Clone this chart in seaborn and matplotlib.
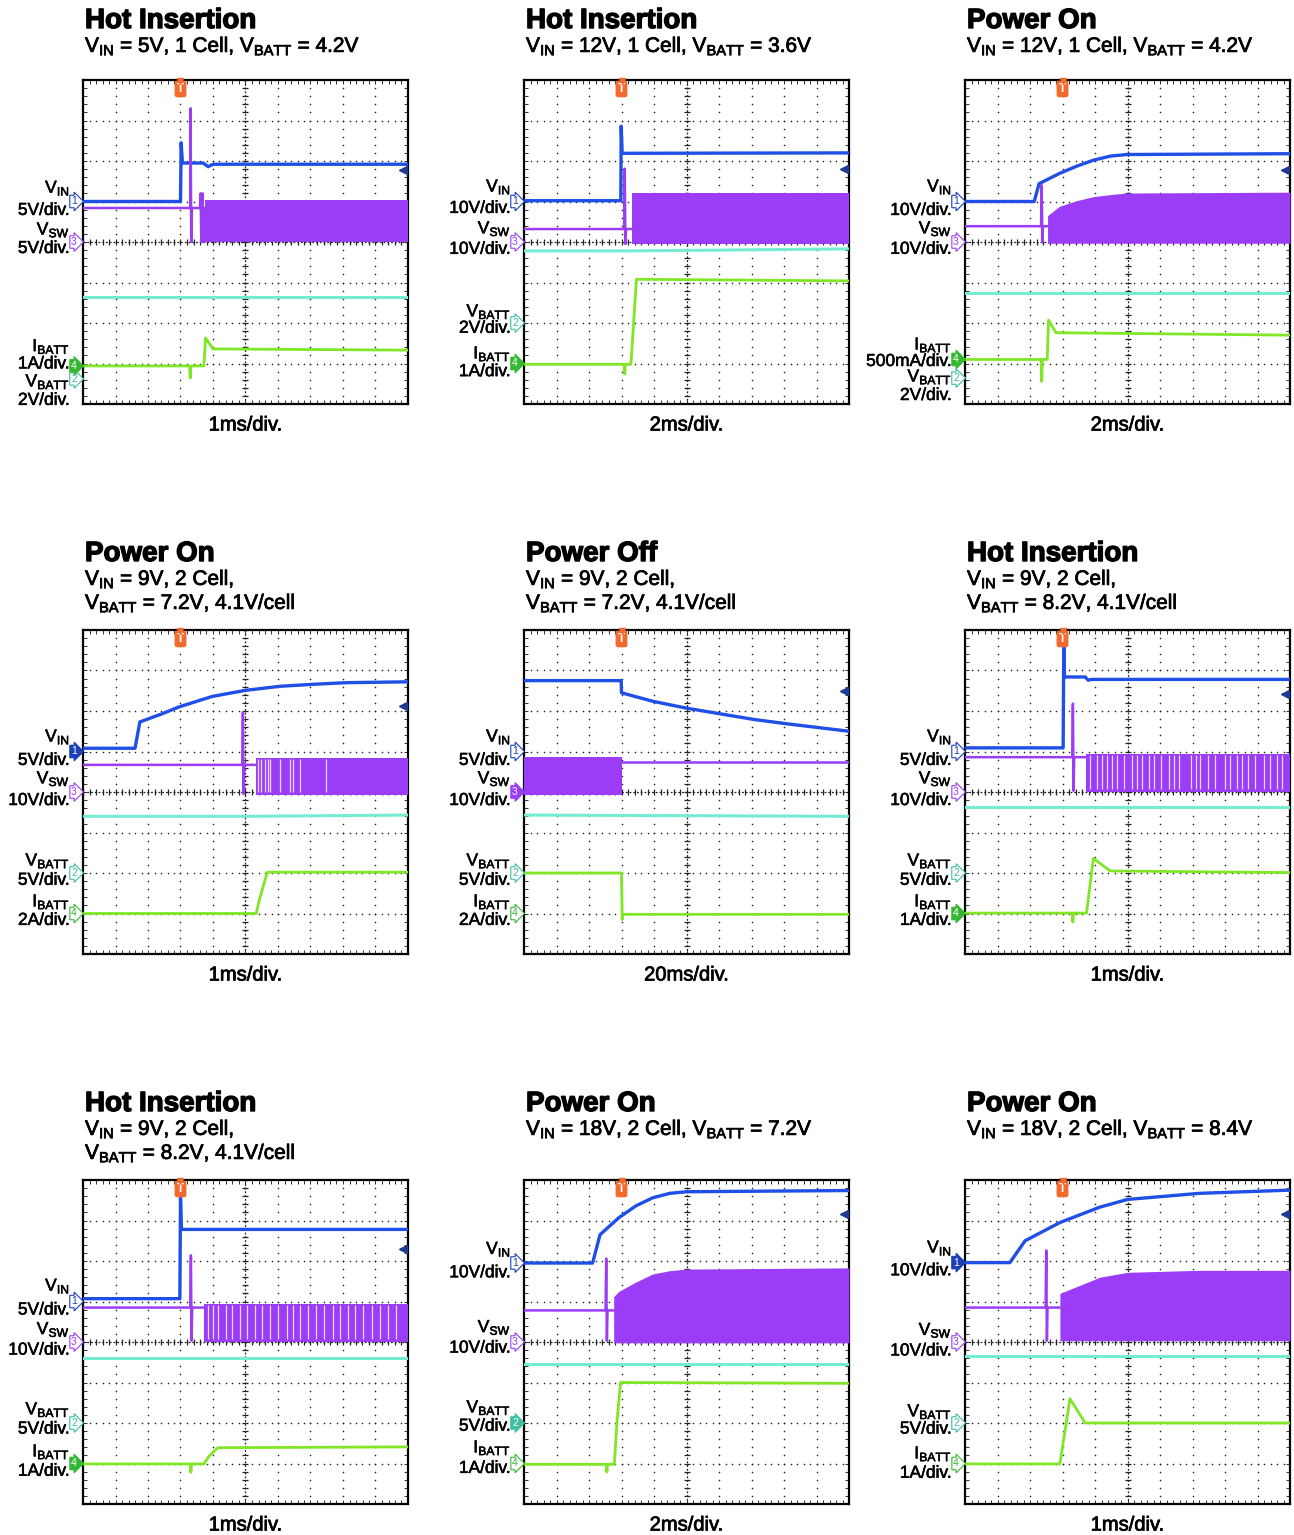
import numpy as np
import seaborn as sns
import matplotlib.pyplot as plt
import matplotlib.patheffects as pe
from matplotlib.ticker import MultipleLocator
from matplotlib.transforms import offset_copy

W, H = 1294, 1535

# scope traces, in screen divisions (x 0..10, y 0..8 from bottom)
# ---- panel A : Hot Insertion, VIN 5V, 1 cell
A_VIN = [(0, 5.0), (3.0, 5.0), (3.02, 6.45), (3.06, 5.95), (3.7, 5.95), (3.85, 5.86), (4.0, 5.92), (10, 5.92)]
A_VSW = [(0, 4.84), (3.3, 4.84), (3.31, 7.3), (3.33, 4.0), (3.35, 4.84), (3.6, 4.84), (3.62, 5.2), (3.64, 4.0),
         (3.66, 4.84), (3.68, 5.2), (3.7, 4.0), (3.75, 4.84)]
A_BAND_X = [3.75, 10]
A_BAND_TOP = [5.04, 5.04]
A_BAND_BOT = 4.0
A_GAPS = []
A_VBATT = [(0, 2.64), (10, 2.64)]
A_IBATT = [(0, 0.94), (3.28, 0.94), (3.3, 0.64), (3.32, 0.94), (3.72, 0.94), (3.77, 1.63), (4.0, 1.36), (10, 1.33)]
A_MARK = [5.0, 4.0, 0.62, 0.94]
A_TRIG = 5.78

# ---- panel B : Hot Insertion, VIN 12V, 1 cell
B_VIN = [(0, 5.02), (2.98, 5.02), (2.99, 6.86), (3.02, 6.19), (10, 6.2)]
B_VSW = [(0, 4.32), (3.08, 4.32), (3.1, 5.81), (3.12, 3.95), (3.14, 4.32), (3.31, 4.32)]
B_BAND_X = [3.31, 10]
B_BAND_TOP = [5.21, 5.21]
B_BAND_BOT = 3.95
B_GAPS = []
B_VBATT = [(0, 3.78), (3.3, 3.78), (10, 3.83)]
B_IBATT = [(0, 0.98), (3.08, 0.98), (3.1, 0.74), (3.12, 0.98), (3.29, 0.98), (3.46, 3.08), (10, 3.04)]
B_MARK = [5.0, 4.0, 2.0, 1.0]
B_TRIG = 5.8

# ---- panel C : Power On, VIN 12V, 1 cell
C_VIN = [(0, 5.0), (2.13, 5.0), (2.28, 5.44), (2.9, 5.69), (3.43, 5.87), (3.95, 6.02), (4.47, 6.12),
         (4.98, 6.16), (10, 6.18)]
C_VSW = [(0, 4.39), (2.34, 4.39), (2.36, 5.4), (2.38, 3.99), (2.4, 4.39), (2.54, 4.39)]
C_BAND_X = [2.54, 2.9, 3.43, 3.95, 4.47, 4.98, 10]
C_BAND_TOP = [4.65, 4.88, 5.02, 5.12, 5.17, 5.21, 5.23]
C_BAND_BOT = 3.97
C_GAPS = []
C_VBATT = [(0, 2.73), (10, 2.73)]
C_IBATT = [(0, 1.1), (2.34, 1.1), (2.36, 0.56), (2.38, 1.1), (2.53, 1.1), (2.57, 2.07), (2.8, 1.76), (10, 1.7)]
C_MARK = [5.0, 4.0, 0.64, 1.1]
C_TRIG = 5.79

# ---- panel D : Power On, VIN 9V, 2 cell
D_VIN = [(0, 5.08), (1.6, 5.08), (1.75, 5.73), (2.43, 5.93), (2.95, 6.1), (3.98, 6.36), (5.0, 6.51),
         (6.06, 6.61), (7.1, 6.66), (8.13, 6.7), (10, 6.72)]
D_VSW = [(0, 4.67), (4.9, 4.67), (4.92, 5.96), (4.94, 3.95), (4.96, 4.67), (5.31, 4.67)]
D_BAND_X = [5.31, 10]
D_BAND_TOP = [4.84, 4.84]
D_BAND_BOT = 3.92
D_GAPS = [5.38, 5.49, 5.59, 5.69, 5.75, 6.06, 6.37, 6.47, 6.68, 7.49]
D_VBATT = [(0, 3.4), (5.0, 3.4), (10, 3.43)]
D_IBATT = [(0, 1.0), (5.33, 1.0), (5.43, 1.35), (5.67, 2.02), (10, 2.02)]
D_MARK = [5.0, 4.0, 2.0, 1.0]
D_TRIG = 6.12

# ---- panel E : Power Off, VIN 9V, 2 cell
E_VIN = [(0, 6.75), (2.99, 6.75), (3.0, 6.45), (3.96, 6.24), (5.0, 6.07), (6.04, 5.93), (7.08, 5.79),
         (8.13, 5.68), (9.17, 5.58), (10, 5.5)]
E_VSW = [(3.0, 4.73), (10, 4.73)]
E_BAND_X = [0, 3.0]
E_BAND_TOP = [4.86, 4.86]
E_BAND_BOT = 3.93
E_GAPS = []
E_VBATT = [(0, 3.43), (10, 3.4)]
E_IBATT = [(0, 2.0), (3.0, 2.0), (3.02, 0.85), (3.04, 0.98), (10, 0.98)]
E_MARK = [5.0, 4.0, 2.0, 1.0]
E_TRIG = 6.5

# ---- panel F : Hot Insertion, VIN 9V, 2 cell
F_VIN = [(0, 5.09), (3.02, 5.09), (3.04, 7.75), (3.06, 6.84), (3.7, 6.84), (3.79, 6.76), (3.9, 6.78), (10, 6.78)]
F_VSW = [(0, 4.86), (3.3, 4.86), (3.32, 6.18), (3.34, 4.03), (3.36, 4.86), (3.71, 4.86)]
F_BAND_X = [3.71, 10]
F_BAND_TOP = [4.94, 4.94]
F_BAND_BOT = 3.99
F_GAPS = [3.84, 4.05, 4.21, 4.36, 4.52, 4.67, 4.88, 5.14, 5.3, 5.45, 5.66, 5.82, 6.02, 6.28, 6.44, 6.59,
          6.96, 7.11, 7.22, 7.48, 7.68, 7.99, 8.15, 8.36, 8.52, 8.72, 8.93, 9.19, 9.39, 9.6, 9.76]
F_VBATT = [(0, 3.64), (10, 3.64)]
F_IBATT = [(0, 1.01), (3.3, 1.01), (3.32, 0.79), (3.34, 1.01), (3.74, 1.01), (3.95, 2.36), (4.47, 2.05), (10, 2.01)]
F_MARK = [5.0, 4.0, 2.0, 1.0]
F_TRIG = 6.43

# ---- panel G : Hot Insertion, VIN 9V, 2 cell
G_VIN = [(0, 5.07), (2.98, 5.07), (3.0, 7.57), (3.03, 6.78), (10, 6.78)]
G_VSW = [(0, 4.85), (3.3, 4.85), (3.32, 6.14), (3.34, 4.03), (3.36, 4.85), (3.72, 4.85)]
G_BAND_X = [3.72, 10]
G_BAND_TOP = [4.93, 4.93]
G_BAND_BOT = 4.0
G_GAPS = [3.85, 4.0, 4.15, 4.4, 4.58, 4.83, 5.05, 5.29, 5.51, 5.75, 6.0, 6.28, 6.46, 6.68, 6.92, 7.17,
          7.42, 7.69, 7.91, 8.15, 8.37, 8.62, 8.89, 9.14, 9.38, 9.63]
G_VBATT = [(0, 3.61), (10, 3.61)]
G_IBATT = [(0, 0.99), (3.3, 0.99), (3.32, 0.78), (3.34, 0.99), (3.72, 0.99), (3.9, 1.2), (4.15, 1.39), (10, 1.41)]
G_MARK = [5.0, 4.0, 2.0, 1.0]
G_TRIG = 6.3

# ---- panel H : Power On, VIN 18V, 2 cell, 7.2V
H_VIN = [(0, 5.95), (2.11, 5.95), (2.34, 6.65), (2.92, 7.07), (3.44, 7.36), (3.96, 7.56), (4.48, 7.67),
         (5.0, 7.71), (10, 7.74)]
H_VSW = [(0, 4.78), (2.51, 4.78), (2.53, 6.06), (2.55, 4.03), (2.57, 4.78), (2.76, 4.78)]
H_BAND_X = [2.76, 2.92, 3.44, 3.96, 4.48, 5.0, 10]
H_BAND_TOP = [5.12, 5.25, 5.48, 5.68, 5.76, 5.8, 5.83]
H_BAND_BOT = 3.98
H_GAPS = []
H_VBATT = [(0, 3.45), (10, 3.45)]
H_IBATT = [(0, 0.98), (2.53, 0.98), (2.55, 0.79), (2.57, 0.98), (2.78, 0.98), (2.86, 2.02), (2.97, 3.0), (10, 2.98)]
H_MARK = [5.95, 4.0, 2.0, 1.0]
H_TRIG = 7.17

# ---- panel I : Power On, VIN 18V, 2 cell, 8.4V
I_VIN = [(0, 5.96), (1.38, 5.96), (1.85, 6.5), (2.92, 6.95), (4.15, 7.33), (5.0, 7.52), (7.2, 7.67), (10, 7.75)]
I_VSW = [(0, 4.85), (2.48, 4.85), (2.5, 6.26), (2.52, 4.03), (2.54, 4.85), (2.92, 4.85)]
I_BAND_X = [2.92, 4.15, 5.0, 7.2, 10]
I_BAND_TOP = [5.2, 5.6, 5.72, 5.77, 5.77]
I_BAND_BOT = 4.03
I_GAPS = []
I_VBATT = [(0, 3.66), (10, 3.66)]
I_IBATT = [(0, 0.99), (2.92, 0.99), (3.23, 2.6), (3.7, 2.0), (10, 2.0)]
I_MARK = [5.96, 4.0, 2.0, 1.0]
I_TRIG = 7.15

# text per panel
TITLES = ['Hot Insertion', 'Hot Insertion', 'Power On',
          'Power On', 'Power Off', 'Hot Insertion',
          'Hot Insertion', 'Power On', 'Power On']
SUBTITLES = [
    ['$V_{IN}$ = 5V, 1 Cell, $V_{BATT}$ = 4.2V'],
    ['$V_{IN}$ = 12V, 1 Cell, $V_{BATT}$ = 3.6V'],
    ['$V_{IN}$ = 12V, 1 Cell, $V_{BATT}$ = 4.2V'],
    ['$V_{IN}$ = 9V, 2 Cell,', '$V_{BATT}$ = 7.2V, 4.1V/cell'],
    ['$V_{IN}$ = 9V, 2 Cell,', '$V_{BATT}$ = 7.2V, 4.1V/cell'],
    ['$V_{IN}$ = 9V, 2 Cell,', '$V_{BATT}$ = 8.2V, 4.1V/cell'],
    ['$V_{IN}$ = 9V, 2 Cell,', '$V_{BATT}$ = 8.2V, 4.1V/cell'],
    ['$V_{IN}$ = 18V, 2 Cell, $V_{BATT}$ = 7.2V'],
    ['$V_{IN}$ = 18V, 2 Cell, $V_{BATT}$ = 8.4V'],
]
TIMEBASE = ['1ms/div.', '2ms/div.', '2ms/div.', '1ms/div.', '20ms/div.', '1ms/div.',
            '1ms/div.', '2ms/div.', '1ms/div.']
# volts/amps per division, order: vin, vsw, vbatt, ibatt
SCALES = [
    ['5V/div.', '5V/div.', '2V/div.', '1A/div.'],
    ['10V/div.', '10V/div.', '2V/div.', '1A/div.'],
    ['10V/div.', '10V/div.', '2V/div.', '500mA/div.'],
    ['5V/div.', '10V/div.', '5V/div.', '2A/div.'],
    ['5V/div.', '10V/div.', '5V/div.', '2A/div.'],
    ['5V/div.', '10V/div.', '5V/div.', '1A/div.'],
    ['5V/div.', '10V/div.', '5V/div.', '1A/div.'],
    ['10V/div.', '10V/div.', '5V/div.', '1A/div.'],
    ['10V/div.', '10V/div.', '5V/div.', '1A/div.'],
]
SELECTED = ['ibatt', 'ibatt', 'ibatt', 'vin', 'vsw', 'ibatt', 'ibatt', 'vbatt', 'vin']

# layout: where the channel name / scale text sits (divisions)
LABEL_Y = [
    [(5.33, 4.78), (4.3, 3.84), (0.55, 0.09), (1.42, 0.99)],
    [(5.36, 4.83), (4.33, 3.82), (2.28, 1.87), (1.24, 0.8)],
    [(5.36, 4.78), (4.33, 3.82), (0.67, 0.21), (1.46, 1.05)],
    [(5.36, 4.78), (4.33, 3.79), (2.3, 1.82), (1.29, 0.83)],
    [(5.36, 4.78), (4.33, 3.79), (2.3, 1.82), (1.29, 0.83)],
    [(5.36, 4.78), (4.33, 3.79), (2.3, 1.82), (1.29, 0.83)],
    [(5.38, 4.79), (4.31, 3.8), (2.33, 1.85), (1.29, 0.81)],
    [(6.29, 5.71), (4.36, 3.85), (2.38, 1.92), (1.39, 0.88)],
    [(6.32, 5.76), (4.29, 3.78), (2.28, 1.85), (1.24, 0.76)],
]

COL_LEFT = [83, 524, 965]
ROW_TOP = [80, 630, 1180]
PW, PH = 325, 324
TITLE_OFF = [52, 69, 69]

CHANNELS = ['vin', 'vsw', 'vbatt', 'ibatt']
CH_NAME = {'vin': '$V_{IN}$', 'vsw': '$V_{SW}$', 'vbatt': '$V_{BATT}$', 'ibatt': '$I_{BATT}$'}
CH_NUM = {'vin': '1', 'vbatt': '2', 'vsw': '3', 'ibatt': '4'}
TRACE_C = {'vin': '#1f4fe6', 'vsw': '#9b3cf6', 'vbatt': '#74ecd4', 'ibatt': '#80e626'}
TRACE_W = {'vin': 2.4, 'vsw': 1.8, 'vbatt': 2.2, 'ibatt': 2.0}
MARK_C = {'vin': '#1a3fb8', 'vsw': '#9b3cf6', 'vbatt': '#3dbf9f', 'ibatt': '#34b834'}

PANELS = []
for key in 'ABCDEFGHI':
    g = globals()
    PANELS.append(dict(vin=g[key + '_VIN'], vsw=g[key + '_VSW'], vbatt=g[key + '_VBATT'], ibatt=g[key + '_IBATT'],
                       band_x=g[key + '_BAND_X'], band_top=g[key + '_BAND_TOP'], band_bot=g[key + '_BAND_BOT'],
                       gaps=g[key + '_GAPS'], mark=g[key + '_MARK'], trig=g[key + '_TRIG']))


sns.set_style('white')
plt.rcParams['font.family'] = ['Liberation Sans', 'DejaVu Sans']
plt.rcParams['text.color'] = 'black'
plt.rcParams['mathtext.fontset'] = 'custom'
plt.rcParams['mathtext.rm'] = 'Liberation Sans'
plt.rcParams['mathtext.it'] = 'Liberation Sans:italic'
plt.rcParams['mathtext.bf'] = 'Liberation Sans:bold'
plt.rcParams['mathtext.default'] = 'rm'

LIGHT = [pe.withStroke(linewidth=0.4, foreground='black')]
HEAVY = [pe.withStroke(linewidth=0.55, foreground='black')]
HEAVIER = [pe.withStroke(linewidth=1.0, foreground='black')]


def draw_grid(ax):
    # dotted graticule, one dot every 0.2 div
    fine_x = np.arange(0, 10.01, 0.2)
    fine_y = np.arange(0, 8.01, 0.2)
    for gy in range(1, 8):
        if gy != 4:
            ax.scatter(fine_x, np.full_like(fine_x, gy), s=1.3, color='#222222', lw=0, zorder=1)
    for gx in range(1, 10):
        if gx != 5:
            ax.scatter(np.full_like(fine_y, gx), fine_y, s=1.3, color='#222222', lw=0, zorder=1)
    # centre cross with small ticks
    ax.axhline(4, color='#222222', lw=0.9, ls=(0, (1.5, 1.5)), zorder=1)
    ax.axvline(5, color='#222222', lw=0.9, ls=(0, (1.5, 1.5)), zorder=1)
    ax.plot(fine_x, np.full_like(fine_x, 4), ls='none', marker='|', ms=5, mew=0.9, color='#222222', zorder=1)
    ax.plot(np.full_like(fine_y, 5), fine_y, ls='none', marker='_', ms=5, mew=0.9, color='#222222', zorder=1)


def draw_trace(ax, pts, color, lw):
    xs = [p[0] for p in pts]
    ys = [p[1] for p in pts]
    sns.lineplot(x=xs, y=ys, ax=ax, color=color, lw=lw, estimator=None, sort=False,
                 legend=False, zorder=3)


def draw_scope(fig, ax, i, p):
    ax.set_xlim(0, 10)
    ax.set_ylim(0, 8)
    draw_grid(ax)

    # switching band of VSW
    ax.fill_between(p['band_x'], p['band_bot'], p['band_top'], color=TRACE_C['vsw'], lw=0, zorder=3)
    if p['gaps']:
        ax.vlines(p['gaps'], p['band_bot'] + 0.08, min(p['band_top']) - 0.02, color='#ead9ff', lw=0.9, zorder=3)
    for ch in CHANNELS:
        draw_trace(ax, p[ch], TRACE_C[ch], TRACE_W[ch])

    ax.set_xlabel('')
    ax.set_ylabel('')
    ax.set_xticklabels([])
    ax.set_yticklabels([])
    ax.xaxis.set_major_locator(MultipleLocator(1))
    ax.yaxis.set_major_locator(MultipleLocator(1))
    ax.xaxis.set_minor_locator(MultipleLocator(0.2))
    ax.yaxis.set_minor_locator(MultipleLocator(0.2))
    ax.tick_params(which='both', direction='in', length=3, width=0.7, color='#333333',
                   top=True, right=True, bottom=True, left=True)
    for s in ax.spines.values():
        s.set_linewidth(1.6)
        s.set_color('black')

    # trigger position and level
    ax.text(3.0, 7.78, 'T', ha='center', va='center', color='white', fontsize=8.5, fontweight='bold',
            bbox=dict(boxstyle='round,pad=0.2', fc='#f26a2e', ec='none'), zorder=5, clip_on=False)
    ax.plot([3.0], [7.98], marker='v', ms=5, color='#f26a2e', clip_on=False, zorder=5)
    ax.plot([9.78, 10.0], [p['trig'], p['trig']], color='#1f3a93', lw=1.3, zorder=5)
    ax.plot([9.86], [p['trig']], marker='<', ms=6, color='#1f3a93', zorder=5)

    # channel markers and labels on the left
    ytrans = ax.get_yaxis_transform()
    lab_trans = offset_copy(ytrans, fig=fig, x=-13, y=0, units='dots')
    for k, ch in enumerate(CHANNELS):
        sel = SELECTED[i] == ch
        ax.annotate(CH_NUM[ch], xy=(0, p['mark'][k]), xycoords=ytrans, xytext=(-6.5, 0),
                    textcoords='offset points', ha='center', va='center', fontsize=7.5,
                    color='white' if sel else MARK_C[ch], annotation_clip=False, zorder=6,
                    bbox=dict(boxstyle='rarrow,pad=0.12', fc=MARK_C[ch] if sel else 'white',
                              ec=MARK_C[ch], lw=0.8))
        ny, sy = LABEL_Y[i][k]
        ax.text(0, ny, CH_NAME[ch], transform=lab_trans, ha='right', va='center', fontsize=12.5,
                path_effects=LIGHT)
        ax.text(0, sy, SCALES[i][k], transform=lab_trans, ha='right', va='center', fontsize=12.5,
                path_effects=LIGHT)


fig = plt.figure(figsize=(W / 100, H / 100), dpi=100)
for i, p in enumerate(PANELS):
    r, c = divmod(i, 3)
    left, top = COL_LEFT[c], ROW_TOP[r]
    ax = fig.add_axes([left / W, 1 - (top + PH) / H, PW / W, PH / H])
    draw_scope(fig, ax, i, p)

    tb = top - TITLE_OFF[r]
    fig.text((left + 2) / W, 1 - tb / H, TITLES[i], fontsize=20, fontweight='bold', va='baseline', ha='left',
             path_effects=HEAVIER)
    for j, line in enumerate(SUBTITLES[i]):
        fig.text((left + 2) / W, 1 - (tb + 24 * (j + 1)) / H, line, fontsize=15, va='baseline', ha='left',
                 path_effects=HEAVY)
    fig.text((left + PW / 2) / W, 1 - (top + PH + 21) / H, TIMEBASE[i], fontsize=14.5, va='center',
             ha='center', path_effects=HEAVY)

fig.savefig('out.png', dpi=100)
